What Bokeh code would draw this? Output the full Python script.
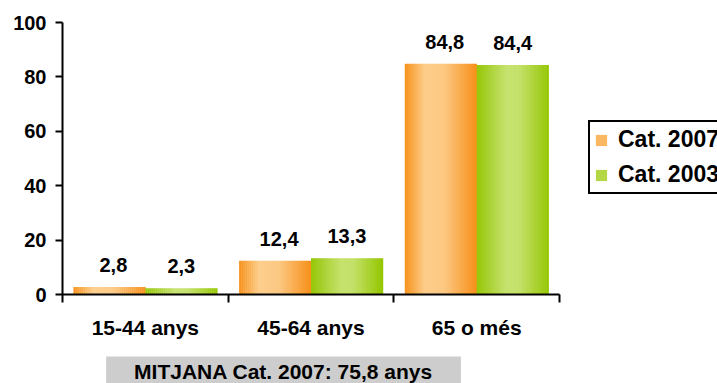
import numpy as np
from bokeh.plotting import figure
from bokeh.layouts import column, row
from bokeh.models import Range1d, FixedTicker, LinearAxis, Legend, LegendItem, Label
from bokeh.core.properties import value
from bokeh.embed import file_html
from bokeh.resources import INLINE

# ---- data ----
categories = ["15-44 anys", "45-64 anys", "65 o més"]
cat_2007 = [2.8, 12.4, 84.8]
cat_2003 = [2.3, 13.3, 84.4]
series_labels = ["Cat. 2007", "Cat. 2003"]
y_ticks = [0, 20, 40, 60, 80, 100]
note = "MITJANA Cat. 2007: 75,8 anys"

# ---- style ----
FONT = "Liberation Sans"
BAR_W = 0.434
N_SLICES = 36
orange_stops = [(0.0, (247, 146, 28)), (0.28, (253, 205, 138)), (0.55, (252, 200, 130)), (1.0, (247, 144, 26))]
green_stops = [(0.0, (150, 198, 8)), (0.42, (198, 226, 110)), (0.58, (196, 225, 106)), (1.0, (148, 198, 0))]


def grad_color(stops, t):
    for (t0, c0), (t1, c1) in zip(stops[:-1], stops[1:]):
        if t0 <= t <= t1:
            f = (t - t0) / (t1 - t0) if t1 > t0 else 0
            c = [int(round(a + (b - a) * f)) for a, b in zip(c0, c1)]
            return "#%02x%02x%02x" % tuple(c)
    return "#%02x%02x%02x" % stops[-1][1]


def bare(fig):
    fig.outline_line_color = None
    fig.grid.visible = False
    fig.background_fill_color = "white"
    fig.border_fill_color = "white"


# ---------------- main chart ----------------
p = figure(width=575, height=355, output_backend="svg", toolbar_location=None,
           x_range=Range1d(0, 3), y_range=Range1d(0, 100),
           x_axis_location=None,
           min_border_left=62, min_border_right=16, min_border_top=22, min_border_bottom=61)
bare(p)

centers = np.arange(len(categories)) + 0.5


def draw_series(vals, offset_sign, stops):
    lefts, rights, tops, colors = [], [], [], []
    for i in range(N_SLICES):
        t = (i + 0.5) / N_SLICES
        col = grad_color(stops, t)
        for c, v in zip(centers, vals):
            base = c if offset_sign > 0 else c - BAR_W
            lefts.append(base + BAR_W * i / N_SLICES)
            rights.append(base + BAR_W * (i + 1) / N_SLICES + 0.002)
            tops.append(v)
            colors.append(col)
    p.quad(left=lefts, right=rights, bottom=0, top=tops, fill_color=colors, line_color=None)


draw_series(cat_2007, -1, orange_stops)
draw_series(cat_2003, +1, green_stops)


def fmt(v):
    return ("%.1f" % v).replace(".", ",")


p.text(x=list(centers - BAR_W / 2), y=cat_2007, text=[fmt(v) for v in cat_2007],
       text_align="center", text_baseline="alphabetic", x_offset=4, y_offset=-22,
       text_font=value(FONT), text_font_style="bold", text_font_size="20px", text_color="black")
p.text(x=list(centers + BAR_W / 2), y=cat_2003, text=[fmt(v) for v in cat_2003],
       text_align="center", text_baseline="alphabetic", x_offset=0, y_offset=-22,
       text_font=value(FONT), text_font_style="bold", text_font_size="20px", text_color="black")

# y axis
ya = p.yaxis[0]
ya.ticker = FixedTicker(ticks=y_ticks)
ya.minor_tick_line_color = None
ya.major_tick_in = 0
ya.major_tick_out = 7
ya.axis_line_width = 2
ya.major_tick_line_width = 2
ya.axis_line_color = "black"
ya.major_tick_line_color = "black"
ya.major_label_standoff = 9
ya.major_label_text_font = FONT
ya.major_label_text_font_style = "bold"
ya.major_label_text_font_size = "20px"
ya.major_label_text_color = "black"

# x axis: boundary ticks
xa1 = LinearAxis(ticker=FixedTicker(ticks=[0, 1, 2, 3]))
xa1.major_tick_in = 0
xa1.major_tick_out = 8
xa1.minor_tick_line_color = None
xa1.axis_line_width = 2
xa1.major_tick_line_width = 2
xa1.axis_line_color = "black"
xa1.major_tick_line_color = "black"
xa1.major_label_overrides = {0: " ", 1: " ", 2: " ", 3: " "}
xa1.major_label_text_font_size = "1px"
xa1.major_label_standoff = 0
p.add_layout(xa1, "below")

# x axis: category labels
xa2 = LinearAxis(ticker=FixedTicker(ticks=list(centers)))
xa2.major_label_overrides = {float(c): lab for c, lab in zip(centers, categories)}
xa2.axis_line_color = None
xa2.major_tick_line_color = None
xa2.minor_tick_line_color = None
xa2.major_label_standoff = 3
xa2.major_label_text_font = FONT
xa2.major_label_text_font_style = "bold"
xa2.major_label_text_font_size = "21px"
xa2.major_label_text_color = "black"
p.add_layout(xa2, "below")

# ---------------- legend panel ----------------
lg = figure(width=142, height=355, output_backend="svg", toolbar_location=None,
            x_range=Range1d(0, 1), y_range=Range1d(0, 1),
            x_axis_location=None, y_axis_location=None, min_border=0)
bare(lg)
# legend proxies (kept outside the visible range)
r1 = lg.quad(left=[5], right=[6], top=[6], bottom=[5], fill_color="#fbb761", line_color=None)
r2 = lg.quad(left=[5], right=[6], top=[6], bottom=[5], fill_color="#b4d746", line_color=None)
legend = Legend(items=[LegendItem(label=series_labels[0], renderers=[r1]),
                       LegendItem(label=series_labels[1], renderers=[r2])],
                location=(13, 100))
legend.border_line_color = "black"
legend.border_line_alpha = 1.0
legend.border_line_width = 2
legend.background_fill_color = "white"
legend.background_fill_alpha = 1
legend.label_text_font = FONT
legend.label_text_font_style = "bold"
legend.label_text_font_size = "23px"
legend.label_text_color = "black"
legend.glyph_width = 14
legend.glyph_height = 14
legend.label_height = 22
legend.spacing = 8
legend.padding = 4
legend.margin = 0
legend.label_standoff = 10
lg.add_layout(legend)

# ---------------- note strip ----------------
nt = figure(width=717, height=28, output_backend="svg", toolbar_location=None,
            x_range=Range1d(0, 1), y_range=Range1d(0, 1),
            x_axis_location=None, y_axis_location=None, min_border=0)
bare(nt)
lbl = Label(x=283, y=7, x_units="screen", y_units="screen", text=note,
            text_align="center", text_baseline="alphabetic",
            text_font=FONT, text_font_style="bold", text_font_size="21px", text_color="black",
            background_fill_color="#cdcdcd", padding=(28, 28, 3, 14))
nt.add_layout(lbl)

layout = column(row(p, lg, spacing=0), nt, spacing=0)
open("out.html", "w").write(file_html(layout, INLINE))
